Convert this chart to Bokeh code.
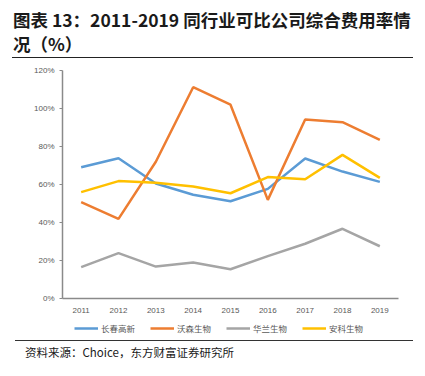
from bokeh.plotting import figure
from bokeh.layouts import column
from bokeh.models import (Range1d, FactorRange, Legend, LegendItem, FixedTicker,
                          PrintfTickFormatter, Div)
from bokeh.embed import file_html
from bokeh.resources import INLINE

years = ["2011", "2012", "2013", "2014", "2015", "2016", "2017", "2018", "2019"]
changchun = [69.1, 73.8, 60.5, 54.6, 51.2, 57.7, 73.7, 66.8, 61.4]
wosen = [50.7, 41.9, 72.0, 111.2, 102.0, 51.9, 94.2, 92.8, 83.5]
hualan = [16.5, 23.9, 16.8, 18.9, 15.4, 22.3, 28.8, 36.7, 27.5]
anke = [56.0, 61.8, 60.9, 58.9, 55.4, 63.9, 62.8, 75.6, 63.5]
series_names = ["长春高新", "沃森生物", "华兰生物", "安科生物"]
series_colors = ["#5B9BD5", "#ED7D31", "#A5A5A5", "#FFC000"]
y_ticks = [0, 20, 40, 60, 80, 100, 120]

title_line1 = "图表 13：2011-2019 同行业可比公司综合费用率情"
title_line2 = "况（%）"
source_text = "资料来源：Choice，东方财富证券研究所"

CJK = "Noto Sans CJK SC"
W = 409

title_div = Div(
    text=('<div style="margin-left:12px;width:401px;box-sizing:border-box;padding:8px 0 0 1px;'
          'height:57.5px;border-bottom:1.5px solid #222;white-space:nowrap;overflow:visible;'
          "font-family:'Noto Sans CJK SC';font-weight:bold;font-size:17.5px;line-height:24px;"
          'color:#1a1a1a;">' + title_line1 + '<br>' + title_line2 + '</div>'),
    width=W, height=60, margin=0)

p = figure(width=W, height=258, x_range=FactorRange(*years, range_padding=0),
           y_range=Range1d(0, 120), output_backend="svg", toolbar_location=None,
           min_border_left=62, min_border_right=11, min_border_top=10, min_border_bottom=20,
           margin=0)
p.outline_line_color = None
p.grid.visible = False

for vals, c in zip([changchun, wosen, hualan, anke], series_colors):
    p.line(years, vals, line_color=c, line_width=2.5)

p.yaxis.ticker = FixedTicker(ticks=y_ticks)
p.yaxis.formatter = PrintfTickFormatter(format="%d%%")
for ax in (p.xaxis[0], p.yaxis[0]):
    ax.axis_line_color = "#8a8a8a"
    ax.axis_line_width = 1.5
    ax.major_label_text_font = "Liberation Sans"
    ax.major_label_text_font_size = "8px"
    ax.major_label_text_color = "#595959"
    ax.minor_tick_line_color = None
p.yaxis.major_tick_line_color = "#8a8a8a"
p.yaxis.major_tick_out = 3
p.yaxis.major_tick_in = 0
p.yaxis.major_label_standoff = 5
p.xaxis.major_tick_line_color = None
p.xaxis.major_label_standoff = 3

# Legend strip (same borders as the chart so the frames line up)
lg = figure(width=W, height=22, x_range=Range1d(0, 1), y_range=Range1d(0, 1),
            output_backend="svg", toolbar_location=None, x_axis_location=None,
            y_axis_location=None, min_border_left=62, min_border_right=11,
            min_border_top=0, min_border_bottom=0, margin=0)
lg.outline_line_color = None
lg.grid.visible = False
items = []
for n, c in zip(series_names, series_colors):
    # off-range stub line: only its legend swatch is visible
    r = lg.line(x=[0, 1], y=[5, 5], line_color=c, line_width=2.5)
    items.append(LegendItem(label=n, renderers=[r]))
legend = Legend(items=items, orientation="horizontal", location=(12, 6))
legend.label_text_font = CJK
legend.label_text_font_size = "8.5px"
legend.label_text_color = "#595959"
legend.glyph_width = 24
legend.glyph_height = 10
legend.label_height = 10
legend.label_standoff = 3
legend.spacing = 15
legend.padding = 0
legend.margin = 0
legend.border_line_color = None
legend.background_fill_alpha = 0
lg.add_layout(legend, "center")

source_div = Div(
    text=('<div style="margin-left:15px;width:398px;box-sizing:border-box;padding:2.5px 0 0 10px;'
          'border-top:1.5px solid #333;white-space:nowrap;'
          "font-family:'Noto Sans CJK SC';font-size:11.5px;line-height:16px;color:#1a1a1a;\">"
          + source_text + '</div>'),
    width=W, height=30, margin=0)

layout = column(title_div, p, lg, source_div, spacing=0)
open("out.html", "w").write(file_html(layout, INLINE))
